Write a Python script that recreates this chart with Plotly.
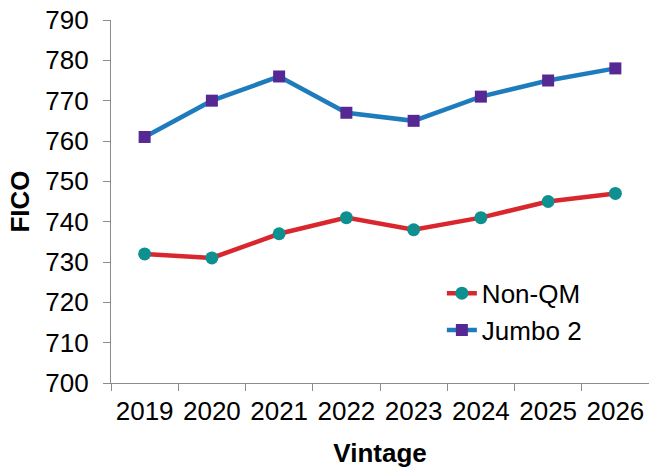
import plotly.graph_objects as go

vintages = ["2019", "2020", "2021", "2022", "2023", "2024", "2025", "2026"]
non_qm = [732, 731, 737, 741, 738, 741, 745, 747]
jumbo_2 = [761, 770, 776, 767, 765, 771, 775, 778]
y_ticks = [700, 710, 720, 730, 740, 750, 760, 770, 780, 790]

FONT = "Liberation Sans, Arial, sans-serif"
FS = 26

fig = go.Figure()
fig.add_trace(go.Scatter(
    x=vintages, y=non_qm, name="Non-QM", mode="lines+markers",
    line=dict(color="#d8282e", width=4.5),
    marker=dict(symbol="circle", size=13, color="#0f9090"),
))
fig.add_trace(go.Scatter(
    x=vintages, y=jumbo_2, name="Jumbo 2", mode="lines+markers",
    line=dict(color="#1f7cbc", width=4.5),
    marker=dict(symbol="square", size=12, color="#562894"),
))

axis_line = "#8c8c8c"
fig.update_layout(
    width=649, height=470,
    margin=dict(l=111, r=0, t=20, b=87),
    paper_bgcolor="white", plot_bgcolor="white",
    font=dict(family=FONT, size=FS, color="black"),
    showlegend=True,
    legend=dict(
        x=0.615, y=0.312, xanchor="left", yanchor="top",
        bgcolor="rgba(0,0,0,0)", font=dict(size=FS),
        tracegroupgap=0,
    ),
    xaxis=dict(
        type="category", range=[-0.5, 7.5],
        showline=True, linecolor=axis_line, linewidth=1.3,
        ticks="outside", tickson="boundaries", ticklen=7,
        tickcolor=axis_line, tickwidth=1.3,
        showgrid=False, zeroline=False,
        tickfont=dict(size=FS), ticklabelstandoff=5,
        title=dict(text="<b>Vintage</b>", font=dict(size=FS), standoff=18),
    ),
    yaxis=dict(
        range=[700, 790], tickvals=y_ticks,
        showline=True, linecolor=axis_line, linewidth=1.3,
        ticks="outside", ticklen=7, tickcolor=axis_line, tickwidth=1.3,
        showgrid=False, zeroline=False,
        tickfont=dict(size=FS), ticklabelstandoff=9,
        title=dict(text="<b>FICO</b>", font=dict(size=FS), standoff=8),
    ),
)

fig.write_html("out.html")
